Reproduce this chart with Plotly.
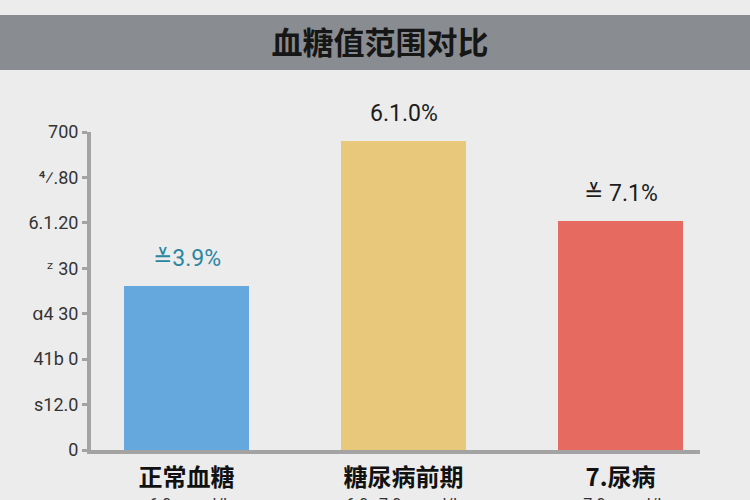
import plotly.graph_objects as go


# categories and values
categories = ["正常血糖", "糖尿病前期", "7.尿病"]
values = [360, 680, 505]
value_labels = ["≚3.9%", "6.1.0%", "≚ 7.1%"]
sub_labels = ["<6.0 mmol/L", "6.0~7.0 mmol/L", "≥7.0 mmol/L"]

# y axis ticks (labels kept as they appear)
tick_vals = [0, 100, 200, 300, 400, 500, 600, 700]
tick_text = ["0", "s12.0", "41b 0", "ɑ4 30", "ᶻ 30", "6.1.20", "⁴⁄.80", "700"]

bar_colors = ["#64a8dd", "#e8c87a", "#e66a60"]
label_colors = ["#2a86a2", "#1c1c1c", "#1c1c1c"]

# plot area in pixels
W, H = 750, 500
L, R, T, B = 91, 700, 132, 450


def py(pix):
    # pixel row -> paper y
    return (B - pix) / (B - T)


def px(pix):
    # pixel column -> paper x
    return (pix - L) / (R - L)


fig = go.Figure()

fig.add_trace(
    go.Bar(
        x=categories,
        y=values,
        width=0.576,
        marker=dict(color=bar_colors, line=dict(width=0)),
        hoverinfo="skip",
    )
)

# value labels above the bars
for cat, val, txt, col in zip(categories, values, value_labels, label_colors):
    fig.add_annotation(
        x=cat, y=val, text=txt, showarrow=False,
        yanchor="bottom", yshift=12,
        font=dict(family="Roboto, Noto Sans, DejaVu Sans", size=23, color=col),
    )

# range labels under the categories (cut by the page edge, as in the source)
for cat, txt in zip(categories, sub_labels):
    fig.add_annotation(
        x=cat, y=py(493), yref="paper", text=txt, showarrow=False,
        yanchor="top",
        font=dict(family="Roboto, Noto Sans, DejaVu Sans", size=16, color="#333333"),
    )

# grey title band
fig.add_shape(
    type="rect", xref="paper", yref="paper",
    x0=px(-5), x1=px(W + 5), y0=py(70), y1=py(15),
    fillcolor="#898c90", line=dict(width=0), layer="below",
)

fig.update_layout(
    width=W,
    height=H,
    autosize=False,
    margin=dict(l=L, r=W - R, t=T, b=H - B),
    paper_bgcolor="#ececec",
    plot_bgcolor="#ececec",
    showlegend=False,
    bargap=0,
    title=dict(
        text="<b>血糖值范围对比</b>",
        x=380 / W, xanchor="center", xref="container",
        y=1 - 43 / H, yanchor="middle", yref="container",
        font=dict(family="Noto Sans CJK SC", size=31, color="#161616"),
    ),
    font=dict(family="Roboto, Noto Sans CJK SC", color="#333333"),
)

fig.update_xaxes(
    range=[-0.44, 2.366],
    automargin=False,
    showline=True, linecolor="#a3a3a3", linewidth=4,
    showgrid=False, zeroline=False,
    ticks="", ticklabelstandoff=3,
    tickfont=dict(family="Noto Sans CJK SC", size=24, color="#111111"),
    tickprefix="<b>", ticksuffix="</b>",
)

fig.update_yaxes(
    range=[0, 700],
    automargin=False,
    tickvals=tick_vals, ticktext=tick_text,
    showline=True, linecolor="#a3a3a3", linewidth=4,
    showgrid=False, zeroline=False,
    ticks="outside", ticklen=5, tickwidth=3, tickcolor="#a3a3a3",
    tickfont=dict(family="Roboto, DejaVu Sans", size=18, color="#333333"),
)

# page has a default body margin, drop it so the chart sits at 0,0
fig.write_html(
    "out.html",
    config={"responsive": False, "displayModeBar": False},
    default_width="750px",
    default_height="500px",
    post_script="document.body.style.margin='0';document.body.style.background='#ececec';",
)
